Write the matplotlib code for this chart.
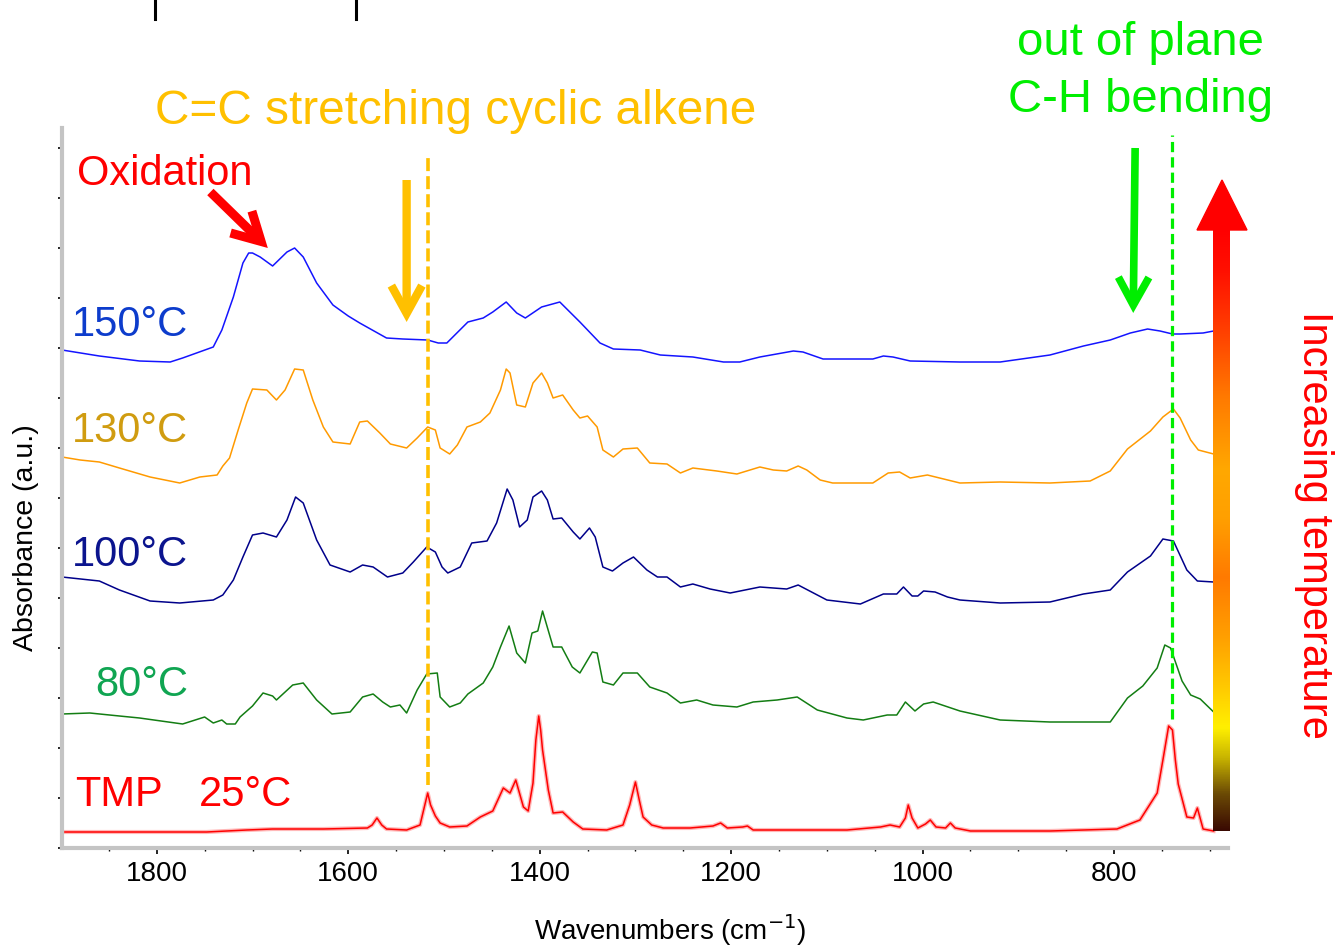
import numpy as np
import matplotlib
matplotlib.use("Agg")
import matplotlib.pyplot as plt
from matplotlib.patches import FancyArrowPatch, Polygon, ArrowStyle
from matplotlib.colors import LinearSegmentedColormap
from matplotlib.ticker import MultipleLocator

plt.rcParams["font.family"] = ["Liberation Sans", "DejaVu Sans"]

# ---------------------------------------------------------------- spectra
# wavenumber (cm-1) / stacked absorbance (a.u.)
WN_150 = [1899, 1860, 1818, 1786, 1773, 1741, 1732, 1720, 1710, 1704, 1700, 1692, 1679, 1664,
          1656, 1647, 1633, 1616, 1600, 1588, 1560, 1543, 1517, 1506, 1497, 1475, 1459, 1449,
          1435, 1424, 1415, 1398, 1379, 1358, 1337, 1323, 1295, 1274, 1240, 1208, 1191, 1170,
          1135, 1125, 1104, 1052, 1041, 1031, 1013, 961, 919, 867, 832, 804, 783, 765, 752, 739,
          731, 707, 696]
ABS_150 = [4.98, 4.92, 4.87, 4.86, 4.90, 5.01, 5.18, 5.51, 5.85, 5.95, 5.95, 5.91, 5.82, 5.96,
           6.00, 5.91, 5.65, 5.43, 5.32, 5.25, 5.10, 5.09, 5.08, 5.05, 5.05, 5.26, 5.30, 5.36,
           5.46, 5.35, 5.30, 5.41, 5.46, 5.26, 5.05, 4.99, 4.98, 4.93, 4.91, 4.86, 4.86, 4.91,
           4.97, 4.96, 4.89, 4.89, 4.92, 4.91, 4.87, 4.86, 4.86, 4.93, 5.02, 5.08, 5.15, 5.19,
           5.17, 5.14, 5.14, 5.15, 5.17]

WN_130 = [1899, 1880, 1860, 1839, 1807, 1776, 1755, 1737, 1731, 1724, 1715, 1706, 1700, 1685,
          1675, 1666, 1656, 1647, 1637, 1626, 1616, 1598, 1588, 1580, 1567, 1556, 1539, 1528,
          1517, 1509, 1504, 1494, 1486, 1476, 1462, 1452, 1441, 1435, 1431, 1424, 1415, 1407,
          1398, 1392, 1386, 1376, 1365, 1358, 1350, 1340, 1334, 1323, 1313, 1298, 1285, 1267,
          1253, 1240, 1215, 1194, 1170, 1156, 1142, 1130, 1121, 1107, 1094, 1052, 1036, 1024,
          1013, 995, 961, 919, 867, 825, 804, 786, 762, 749, 738, 731, 720, 712, 696]
ABS_130 = [3.91, 3.88, 3.86, 3.80, 3.71, 3.65, 3.71, 3.73, 3.82, 3.90, 4.18, 4.45, 4.59, 4.58,
           4.48, 4.58, 4.79, 4.78, 4.48, 4.21, 4.06, 4.04, 4.26, 4.27, 4.15, 4.04, 4.00, 4.10,
           4.21, 4.18, 4.00, 3.94, 4.03, 4.21, 4.26, 4.35, 4.58, 4.79, 4.75, 4.43, 4.41, 4.65,
           4.75, 4.65, 4.50, 4.53, 4.38, 4.30, 4.32, 4.21, 3.98, 3.91, 3.99, 4.00, 3.85, 3.84,
           3.75, 3.80, 3.77, 3.74, 3.81, 3.78, 3.77, 3.82, 3.78, 3.68, 3.65, 3.65, 3.75, 3.76,
           3.70, 3.73, 3.65, 3.66, 3.65, 3.67, 3.77, 3.99, 4.17, 4.31, 4.39, 4.30, 4.08, 3.98, 3.94]

WN_100 = [1899, 1860, 1839, 1807, 1776, 1741, 1731, 1720, 1710, 1700, 1689, 1675, 1664, 1655,
          1647, 1633, 1619, 1598, 1585, 1574, 1559, 1543, 1532, 1518, 1509, 1502, 1496, 1483,
          1471, 1455, 1445, 1434, 1428, 1421, 1413, 1407, 1398, 1392, 1386, 1377, 1365, 1358,
          1348, 1342, 1334, 1324, 1313, 1302, 1288, 1277, 1267, 1253, 1240, 1222, 1201, 1170,
          1142, 1130, 1110, 1100, 1065, 1041, 1027, 1020, 1011, 1005, 999, 987, 974, 961, 919,
          867, 832, 804, 786, 762, 749, 738, 724, 713, 696]
ABS_100 = [2.71, 2.67, 2.58, 2.47, 2.45, 2.48, 2.53, 2.68, 2.91, 3.13, 3.15, 3.11, 3.28, 3.51,
           3.45, 3.08, 2.83, 2.76, 2.83, 2.81, 2.71, 2.75, 2.86, 3.01, 2.96, 2.81, 2.75, 2.81,
           3.05, 3.07, 3.25, 3.59, 3.48, 3.21, 3.28, 3.51, 3.57, 3.48, 3.29, 3.30, 3.16, 3.09,
           3.20, 3.11, 2.81, 2.77, 2.85, 2.91, 2.78, 2.71, 2.71, 2.61, 2.64, 2.59, 2.55, 2.61,
           2.59, 2.63, 2.53, 2.48, 2.44, 2.54, 2.54, 2.61, 2.52, 2.52, 2.57, 2.56, 2.51, 2.48,
           2.45, 2.46, 2.54, 2.58, 2.76, 2.92, 3.09, 3.07, 2.78, 2.67, 2.66]

WN_80 = [1899, 1870, 1839, 1818, 1773, 1750, 1741, 1732, 1727, 1718, 1713, 1700, 1689, 1679,
         1675, 1658, 1647, 1633, 1617, 1598, 1585, 1574, 1564, 1556, 1546, 1539, 1528, 1518,
         1507, 1504, 1494, 1483, 1475, 1459, 1449, 1441, 1432, 1424, 1415, 1408, 1402, 1397,
         1386, 1377, 1366, 1358, 1345, 1340, 1334, 1323, 1313, 1298, 1285, 1267, 1253, 1236,
         1219, 1194, 1177, 1152, 1131, 1110, 1079, 1062, 1037, 1027, 1018, 1008, 999, 989, 961,
         919, 867, 804, 786, 770, 755, 747, 741, 729, 720, 710, 696]
ABS_80 = [1.34, 1.35, 1.32, 1.30, 1.24, 1.31, 1.25, 1.28, 1.24, 1.24, 1.31, 1.42, 1.55, 1.52,
          1.48, 1.63, 1.65, 1.48, 1.34, 1.36, 1.51, 1.54, 1.46, 1.41, 1.43, 1.35, 1.58, 1.74,
          1.75, 1.51, 1.41, 1.45, 1.54, 1.65, 1.81, 2.01, 2.22, 1.95, 1.85, 2.15, 2.17, 2.37,
          2.01, 2.01, 1.81, 1.75, 1.96, 1.95, 1.66, 1.63, 1.75, 1.75, 1.61, 1.55, 1.45, 1.48,
          1.43, 1.41, 1.46, 1.48, 1.51, 1.38, 1.30, 1.28, 1.33, 1.33, 1.46, 1.37, 1.44, 1.46, 1.37,
          1.28, 1.26, 1.26, 1.50, 1.62, 1.80, 2.03, 2.00, 1.67, 1.53, 1.49, 1.36]

WN_25 = [1896, 1748, 1706, 1679, 1626, 1580, 1575, 1570, 1565, 1560, 1539, 1525, 1520, 1517,
         1514, 1509, 1504, 1494, 1476, 1462, 1449, 1438, 1431, 1425, 1417, 1412, 1407, 1404,
         1401, 1399, 1397, 1391, 1386, 1376, 1365, 1355, 1330, 1313, 1306, 1300, 1296, 1292,
         1283, 1271, 1243, 1219, 1211, 1204, 1188, 1183, 1177, 1079, 1044, 1034, 1024, 1018,
         1015, 1011, 1005, 997, 992, 986, 976, 971, 966, 950, 867, 797, 773, 755, 749, 743,
         739, 736, 733, 724, 717, 713, 707, 696]
ABS_25 = [0.16, 0.16, 0.18, 0.19, 0.19, 0.20, 0.23, 0.30, 0.23, 0.19, 0.18, 0.23, 0.43, 0.55,
          0.43, 0.32, 0.25, 0.21, 0.22, 0.31, 0.37, 0.60, 0.55, 0.68, 0.41, 0.37, 0.65, 1.08,
          1.32, 1.18, 0.98, 0.58, 0.35, 0.36, 0.26, 0.19, 0.18, 0.23, 0.43, 0.66, 0.48, 0.31,
          0.23, 0.20, 0.20, 0.22, 0.25, 0.20, 0.21, 0.22, 0.18, 0.18, 0.21, 0.23, 0.21, 0.30,
          0.43, 0.30, 0.20, 0.24, 0.28, 0.21, 0.20, 0.25, 0.20, 0.17, 0.17, 0.19, 0.28, 0.55,
          0.88, 1.22, 1.18, 0.88, 0.64, 0.31, 0.30, 0.40, 0.19, 0.17]

SERIES = [
    ("150°C", WN_150, ABS_150, "#1414ff", "#0d3ccc"),
    ("130°C", WN_130, ABS_130, "#ff9a00", "#d09c10"),
    ("100°C", WN_100, ABS_100, "#00008a", "#0b148e"),
    ("80°C", WN_80, ABS_80, "#137d13", "#10a552"),
]
LABEL_Y = [325, 431, 555, 685]       # label rows (figure pixels, from top)
LABEL_X = [72, 72, 72, 95]

# band markers (cm-1)
CC_STRETCH = 1517
CH_BEND = 739

W, H = 1338, 946
fig = plt.figure(figsize=(W / 100, H / 100), dpi=100)
ax = fig.add_axes([62 / W, (H - 848) / H, (1228 - 62) / W, (848 - 128) / H])

for name, wn, ab, col, _ in SERIES:
    ax.plot(wn, ab, color=col, lw=1.1, solid_joinstyle="round")
# room-temperature reference with a soft halo
ax.plot(WN_25, ABS_25, color="#ff9a9a", lw=3.0, alpha=0.7, solid_joinstyle="round")
ax.plot(WN_25, ABS_25, color="#ff0000", lw=1.1, solid_joinstyle="round")

ax.set_xlim(1899, 681)
ax.set_ylim(0, 7.2)

# band position markers
ax.plot([CC_STRETCH, CC_STRETCH], [0.63, 6.90], color="#ffc000", lw=2.6,
        dashes=[3.6, 1.4], solid_capstyle="butt")
ax.plot([CH_BEND, CH_BEND], [1.29, 7.13], color="#00ee00", lw=2.3,
        dashes=[3.2, 1.6], clip_on=False)


def block_arrow(tail, tip, color, lw, hl, hw):
    style = ArrowStyle("->", head_length=hl, head_width=hw)
    p = FancyArrowPatch(tail, tip, arrowstyle=style, mutation_scale=1, lw=lw,
                        color=color, shrinkA=0, shrinkB=0, clip_on=False,
                        capstyle="butt", joinstyle="miter")
    ax.add_patch(p)


block_arrow((1539, 6.68), (1539, 5.26), "#ffc000", 6.0, 20, 11)
block_arrow((778, 7.00), (780, 5.35), "#00ee00", 5.5, 20, 11)
block_arrow((1744, 6.56), (1684, 6.00), "#ff0000", 6.5, 20, 11)

# axes styling
for s in ("top", "right"):
    ax.spines[s].set_visible(False)
for s in ("left", "bottom"):
    ax.spines[s].set_color("#c4c4c4")
    ax.spines[s].set_linewidth(3)
ax.xaxis.set_major_locator(MultipleLocator(200))
ax.xaxis.set_minor_locator(MultipleLocator(50))
ax.yaxis.set_major_locator(MultipleLocator(0.5))
ax.yaxis.set_minor_locator(MultipleLocator(0.125))
ax.tick_params(axis="x", which="major", direction="out", length=4, width=1.2,
               labelsize=20, pad=5)
ax.tick_params(axis="x", which="minor", direction="out", length=2.5, width=1)
ax.tick_params(axis="y", which="major", direction="out", length=3, width=1.2, labelleft=False)
ax.tick_params(axis="y", which="minor", direction="out", length=1.5, width=0.8)

# ---------------------------------------------------------------- overlay (pixel space)
ov = fig.add_axes([0, 0, 1, 1])
ov.set_xlim(0, W)
ov.set_ylim(H, 0)
ov.axis("off")
ov.patch.set_visible(False)

ov.text(670, 930, "Wavenumbers (cm$^{-1}$)", fontsize=20, ha="center", va="center")
ov.text(26, 538, "Absorbance (a.u.)", fontsize=20.5, rotation=90, ha="center", va="center")

for (name, _, _, _, tcol), ly, lx in zip(SERIES, LABEL_Y, LABEL_X):
    ov.text(lx, ly, name, color=tcol, fontsize=30, va="center", ha="left")
ov.text(75, 795, "TMP", color="#ff0000", fontsize=30, va="center", ha="left")
ov.text(199, 795, "25°C", color="#ff0000", fontsize=30, va="center", ha="left")

ov.text(155, 124, "C=C stretching cyclic alkene", color="#ffc000", fontsize=34.4,
        va="baseline", ha="left")
ov.text(77, 185, "Oxidation", color="#ff0000", fontsize=30, va="baseline", ha="left")
ov.text(1140, 55, "out of plane", color="#00ee00", fontsize=34, va="baseline", ha="center")
ov.text(1140, 112, "C-H bending", color="#00ee00", fontsize=34, va="baseline", ha="center")
ov.text(1314, 525, "Increasing temperature", color="#ff0000", fontsize=30,
        rotation=-90, va="center", ha="center")

# temperature gradient arrow
grad = LinearSegmentedColormap.from_list("heat", [
    (0.00, "#3a0a02"), (0.06, "#6b4a05"), (0.12, "#c8b400"), (0.17, "#fff000"),
    (0.24, "#ffc800"), (0.32, "#ffa000"), (0.42, "#ff7a00"), (0.52, "#ffa000"),
    (0.60, "#ffa800"), (0.72, "#ff7a00"), (0.83, "#ff4000"), (0.93, "#ff1000"),
    (1.00, "#ff0000")])
ov.imshow(np.linspace(1, 0, 256).reshape(-1, 1), cmap=grad, aspect="auto",
          extent=[1213, 1230, 831, 229], zorder=3)
ov.add_patch(Polygon([(1197, 230), (1247, 230), (1222, 180)], closed=True,
                     color="#ff0000", zorder=3))
ov.set_xlim(0, W)
ov.set_ylim(H, 0)

# tick stubs along the upper edge
for x in (155, 356):
    ov.plot([x, x], [0, 19], color="black", lw=2.2)

fig.savefig("out.png", dpi=100)
